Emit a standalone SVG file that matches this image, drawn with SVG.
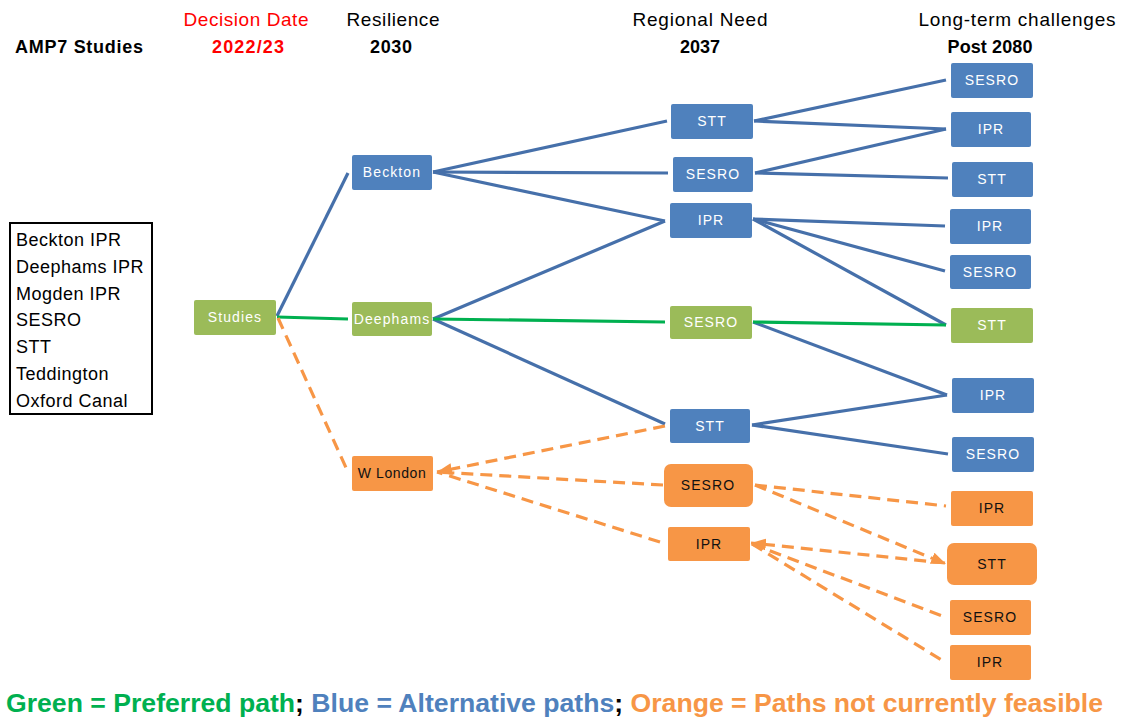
<svg xmlns="http://www.w3.org/2000/svg" width="1125" height="717" viewBox="0 0 1125 717">
  <defs>
    <style>
      .hdr { font-family: "Liberation Sans", Arial, sans-serif; font-size: 19px; fill: #000; text-anchor: middle; }
      .hdrb { font-family: "Liberation Sans", Arial, sans-serif; font-size: 18px; font-weight: bold; fill: #000; text-anchor: middle; }
      .red { fill: #FF0000; }
      .blue { fill: #4F81BD; }
      .green { fill: #9BBB59; }
      .orange { fill: #F79646; }
      .lbl { font-family: "Liberation Sans", Arial, sans-serif; font-size: 14px; letter-spacing: 1.1px; text-anchor: middle; fill: #fff; }
      .lbl.dark { fill: #111; }
      .list { font-family: "Liberation Sans", Arial, sans-serif; font-size: 18px; letter-spacing: 0.5px; fill: #000; }
      .cb { stroke: #4670AA; stroke-width: 3.2; fill: none; }
      .cg { stroke: #00B050; stroke-width: 3.2; fill: none; }
      .co { stroke: #F79646; stroke-width: 3.2; fill: none; stroke-dasharray: 12 7; }
      .foot { font-family: "Liberation Sans", Arial, sans-serif; font-size: 25px; font-weight: bold; }
    </style>
    <marker id="arrO" markerUnits="userSpaceOnUse" markerWidth="16" markerHeight="12" refX="15" refY="6" orient="auto">
      <path d="M0,0 L15,6 L0,12 z" fill="#F79646"/>
    </marker>
  </defs>

  <rect width="1125" height="717" fill="#fff"/>

  <!-- column headings -->
  <g id="headings">
    <text class="hdr red" x="246" y="26" textLength="125">Decision Date</text>
    <text class="hdr" x="393" y="26" textLength="93">Resilience</text>
    <text class="hdr" x="700" y="26" textLength="135">Regional Need</text>
    <text class="hdr" x="1017" y="26" textLength="197">Long-term challenges</text>
    <text class="hdrb" x="79" y="53" textLength="128">AMP7 Studies</text>
    <text class="hdrb red" x="248" y="53" textLength="72">2022/23</text>
    <text class="hdrb" x="391" y="53" textLength="42">2030</text>
    <text class="hdrb" x="700" y="53" textLength="40">2037</text>
    <text class="hdrb" x="990" y="53" textLength="85">Post 2080</text>
  </g>

  <!-- options list -->
  <g id="study-list">
    <rect x="10" y="223" width="142" height="191" fill="#fff" stroke="#000" stroke-width="2"/>
    <text class="list" x="16" y="246">Beckton IPR</text>
    <text class="list" x="16" y="273">Deephams IPR</text>
    <text class="list" x="16" y="300">Mogden IPR</text>
    <text class="list" x="16" y="326">SESRO</text>
    <text class="list" x="16" y="353">STT</text>
    <text class="list" x="16" y="380">Teddington</text>
    <text class="list" x="16" y="407">Oxford Canal</text>
  </g>

  <!-- connectors -->
  <g id="connectors">
    <!-- blue: alternative paths -->
    <line class="cb" x1="277" y1="316" x2="348" y2="173"/>
    <line class="cb" x1="433" y1="172" x2="667" y2="121"/>
    <line class="cb" x1="433" y1="172" x2="668" y2="173"/>
    <line class="cb" x1="433" y1="172" x2="665" y2="221"/>
    <line class="cb" x1="433" y1="319" x2="665" y2="221"/>
    <line class="cb" x1="433" y1="319" x2="665" y2="424"/>
    <line class="cb" x1="754" y1="121" x2="946" y2="80"/>
    <line class="cb" x1="754" y1="121" x2="946" y2="129"/>
    <line class="cb" x1="755" y1="173" x2="946" y2="129"/>
    <line class="cb" x1="755" y1="173" x2="948" y2="178"/>
    <line class="cb" x1="753" y1="219" x2="945" y2="226"/>
    <line class="cb" x1="753" y1="219" x2="945" y2="271"/>
    <line class="cb" x1="753" y1="219" x2="946" y2="325"/>
    <line class="cb" x1="753" y1="322" x2="947" y2="395"/>
    <line class="cb" x1="752" y1="425" x2="947" y2="395"/>
    <line class="cb" x1="752" y1="425" x2="948" y2="454"/>
    <!-- green: preferred path -->
    <line class="cg" x1="277" y1="317" x2="348" y2="319"/>
    <line class="cg" x1="433" y1="319" x2="665" y2="322"/>
    <line class="cg" x1="753" y1="322" x2="946" y2="325"/>
    <!-- orange: paths not currently feasible -->
    <line class="co" x1="278" y1="318" x2="348" y2="472"/>
    <line class="co" x1="665" y1="426" x2="437" y2="472" marker-end="url(#arrO)"/>
    <line class="co" x1="663" y1="485" x2="437" y2="472"/>
    <line class="co" x1="660" y1="542" x2="437" y2="472"/>
    <line class="co" x1="755" y1="485" x2="946" y2="506"/>
    <line class="co" x1="755" y1="485" x2="946" y2="564" marker-end="url(#arrO)"/>
    <line class="co" x1="945" y1="563" x2="751" y2="543" marker-end="url(#arrO)"/>
    <line class="co" x1="752" y1="544" x2="945" y2="617"/>
    <line class="co" x1="752" y1="544" x2="945" y2="662"/>
  </g>

  <!-- nodes: studies and resilience -->
  <g id="n-studies"><rect class="green" x="194" y="300" width="82" height="35" rx="2"/><text class="lbl" x="235" y="322">Studies</text></g>
  <g id="n-beckton"><rect class="blue" x="352" y="155" width="80" height="35" rx="2"/><text class="lbl" x="392" y="177">Beckton</text></g>
  <g id="n-deephams"><rect class="green" x="352" y="302" width="80" height="34" rx="2"/><text class="lbl" x="392" y="324">Deephams</text></g>
  <g id="n-wlondon"><rect class="orange" x="352" y="456" width="81" height="35" rx="2"/><text class="lbl dark" x="392" y="478" style="letter-spacing:0.6px">W London</text></g>

  <!-- nodes: regional need -->
  <g id="n-rn-stt1"><rect class="blue" x="671" y="104" width="82" height="35" rx="2"/><text class="lbl" x="712" y="126">STT</text></g>
  <g id="n-rn-sesro1"><rect class="blue" x="673" y="157" width="80" height="35" rx="2"/><text class="lbl" x="713" y="179">SESRO</text></g>
  <g id="n-rn-ipr1"><rect class="blue" x="670" y="203" width="82" height="35" rx="2"/><text class="lbl" x="711" y="225">IPR</text></g>
  <g id="n-rn-sesro2"><rect class="green" x="670" y="306" width="82" height="33" rx="2"/><text class="lbl" x="711" y="327">SESRO</text></g>
  <g id="n-rn-stt2"><rect class="blue" x="670" y="409" width="80" height="34" rx="2"/><text class="lbl" x="710" y="431">STT</text></g>
  <g id="n-rn-sesro3"><rect class="orange" x="664" y="464" width="89" height="43" rx="7"/><text class="lbl dark" x="708" y="490">SESRO</text></g>
  <g id="n-rn-ipr2"><rect class="orange" x="668" y="527" width="82" height="34" rx="2"/><text class="lbl dark" x="709" y="549">IPR</text></g>

  <!-- nodes: long-term challenges -->
  <g id="n-lt-sesro1"><rect class="blue" x="951" y="63" width="82" height="35" rx="2"/><text class="lbl" x="992" y="85">SESRO</text></g>
  <g id="n-lt-ipr1"><rect class="blue" x="951" y="112" width="80" height="35" rx="2"/><text class="lbl" x="991" y="134">IPR</text></g>
  <g id="n-lt-stt1"><rect class="blue" x="952" y="162" width="81" height="35" rx="2"/><text class="lbl" x="992" y="184">STT</text></g>
  <g id="n-lt-ipr2"><rect class="blue" x="950" y="209" width="81" height="35" rx="2"/><text class="lbl" x="990" y="231">IPR</text></g>
  <g id="n-lt-sesro2"><rect class="blue" x="950" y="255" width="81" height="34" rx="2"/><text class="lbl" x="990" y="277">SESRO</text></g>
  <g id="n-lt-stt2"><rect class="green" x="951" y="308" width="82" height="35" rx="2"/><text class="lbl" x="992" y="330">STT</text></g>
  <g id="n-lt-ipr3"><rect class="blue" x="952" y="378" width="82" height="35" rx="2"/><text class="lbl" x="993" y="400">IPR</text></g>
  <g id="n-lt-sesro3"><rect class="blue" x="952" y="437" width="82" height="35" rx="2"/><text class="lbl" x="993" y="459">SESRO</text></g>
  <g id="n-lt-ipr4"><rect class="orange" x="951" y="491" width="82" height="35" rx="2"/><text class="lbl dark" x="992" y="513">IPR</text></g>
  <g id="n-lt-stt3"><rect class="orange" x="947" y="543" width="90" height="42" rx="7"/><text class="lbl dark" x="992" y="569">STT</text></g>
  <g id="n-lt-sesro4"><rect class="orange" x="950" y="600" width="81" height="35" rx="2"/><text class="lbl dark" x="990" y="622">SESRO</text></g>
  <g id="n-lt-ipr5"><rect class="orange" x="950" y="645" width="81" height="35" rx="2"/><text class="lbl dark" x="990" y="667">IPR</text></g>

  <!-- key -->
  <g id="key">
    <text class="foot" x="6" y="712" textLength="1097" lengthAdjust="spacingAndGlyphs"><tspan fill="#00B050">Green = Preferred path</tspan><tspan fill="#000">; </tspan><tspan fill="#4F81BD">Blue = Alternative paths</tspan><tspan fill="#000">; </tspan><tspan fill="#F79646">Orange = Paths not currently feasible</tspan></text>
  </g>
</svg>
